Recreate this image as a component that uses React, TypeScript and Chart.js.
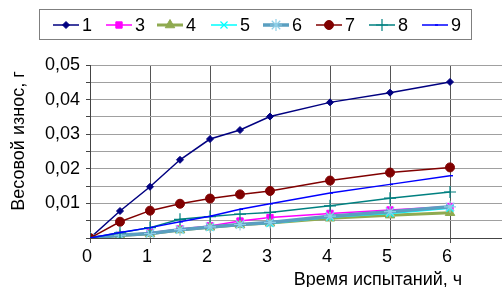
import React, { useEffect, useRef } from "react";
import { Chart, registerables } from "chart.js";
import { drawPoint } from "chart.js/helpers";

Chart.register(...registerables);

const timeHours = [0, 0.5, 1, 1.5, 2, 2.5, 3, 4, 5, 6];
const seriesLabels = ["1", "3", "4", "5", "6", "7", "8", "9"];
const s1 = [0, 0.0078, 0.0148, 0.0226, 0.0286, 0.0312, 0.0351, 0.0392, 0.042, 0.0451];
const s3 = [0, 0.0008, 0.0015, 0.0026, 0.0035, 0.0049, 0.0059, 0.0071, 0.0081, 0.0091];
const s4 = [0, 0.0007, 0.0012, 0.0023, 0.0031, 0.0038, 0.0043, 0.0057, 0.0066, 0.0073];
const s5 = [0, 0.0008, 0.0013, 0.0024, 0.0031, 0.0039, 0.0042, 0.006, 0.0071, 0.0086];
const s6 = [0, 0.0008, 0.0013, 0.0024, 0.0032, 0.0039, 0.0045, 0.0063, 0.0076, 0.009];
const s7 = [0, 0.0047, 0.0079, 0.0099, 0.0114, 0.0126, 0.0136, 0.0166, 0.0189, 0.0204];
const s8 = [0, 0.0015, 0.003, 0.0054, 0.0062, 0.0069, 0.0074, 0.0093, 0.0115, 0.0133];
const s9 = [0, 0.0016, 0.003, 0.0047, 0.0063, 0.0083, 0.0099, 0.013, 0.0155, 0.018];
const xTitle = "Время испытаний, ч";
const yTitle = "Весовой износ, г";

const FONT = 'Arial, "Liberation Sans", sans-serif';
const FS = 18;

type Style = {
  color: string;
  lineWidth: number;
  pointStyle: string;
  radius: number;
  pointColor: string;
  pointBorderWidth: number;
};

const styles: Style[] = [
  { color: "#000080", lineWidth: 1.5, pointStyle: "rectRot", radius: 3.5, pointColor: "#000080", pointBorderWidth: 1 },
  { color: "#FF00FF", lineWidth: 1.5, pointStyle: "rect", radius: 4.5, pointColor: "#FF00FF", pointBorderWidth: 1 },
  { color: "#8FAA50", lineWidth: 3, pointStyle: "triangle", radius: 5.5, pointColor: "#8FAA50", pointBorderWidth: 1 },
  { color: "#00FFFF", lineWidth: 1.5, pointStyle: "crossRot", radius: 5, pointColor: "#00FFFF", pointBorderWidth: 1.2 },
  { color: "#5A9FC0", lineWidth: 3.5, pointStyle: "star", radius: 6, pointColor: "#8FD0E8", pointBorderWidth: 1.2 },
  { color: "#800000", lineWidth: 1.5, pointStyle: "circle", radius: 4.5, pointColor: "#800000", pointBorderWidth: 1 },
  { color: "#008080", lineWidth: 1.5, pointStyle: "cross", radius: 6, pointColor: "#008080", pointBorderWidth: 1.2 },
  { color: "#0000FF", lineWidth: 1.5, pointStyle: "dash", radius: 3, pointColor: "#0000FF", pointBorderWidth: 1.5 },
];

const allSeries = [s1, s3, s4, s5, s6, s7, s8, s9];

const legendLineStarts = [53, 106, 157, 211, 263, 316, 369, 422];

const customText = {
  id: "customText",
  afterDraw(chart: any) {
    const ctx = chart.ctx as CanvasRenderingContext2D;
    ctx.save();
    ctx.strokeStyle = "#7f7f7f";
    ctx.lineWidth = 1;
    ctx.strokeRect(39.5, 9.5, 432, 30);
    const cy = 25;
    seriesLabels.forEach((lab, i) => {
      const st = styles[i];
      const x0 = legendLineStarts[i];
      ctx.beginPath();
      ctx.strokeStyle = st.color;
      ctx.lineWidth = st.lineWidth;
      ctx.moveTo(x0, cy);
      ctx.lineTo(x0 + 26, cy);
      ctx.stroke();
      ctx.fillStyle = st.pointColor;
      ctx.strokeStyle = st.pointColor;
      ctx.lineWidth = st.pointBorderWidth;
      drawPoint(ctx, { pointStyle: st.pointStyle as any, radius: st.radius, rotation: 0, borderWidth: st.pointBorderWidth }, x0 + 13, cy);
      ctx.fillStyle = "#000";
      ctx.font = `${FS}px ${FONT}`;
      ctx.textAlign = "left";
      ctx.textBaseline = "middle";
      ctx.fillText(lab, x0 + 29, cy + 1);
    });
    ctx.fillStyle = "#000";
    ctx.font = `${FS}px ${FONT}`;
    ctx.textAlign = "center";
    ctx.textBaseline = "middle";
    ctx.fillText(xTitle, 378, 280);
    ctx.translate(19, 141);
    ctx.rotate(-Math.PI / 2);
    ctx.fillText(yTitle, 0, 0);
    ctx.restore();
  },
};

export default function App() {
  const ref = useRef<HTMLCanvasElement | null>(null);
  useEffect(() => {
    if (!ref.current) return;
    const chart = new Chart(ref.current, {
      type: "line",
      data: {
        datasets: allSeries.map((vals, i) => {
          const st = styles[i];
          return {
            label: seriesLabels[i],
            data: vals.map((v, j) => ({ x: timeHours[j], y: v })),
            borderColor: st.color,
            borderWidth: st.lineWidth,
            pointStyle: st.pointStyle as any,
            pointRadius: st.radius,
            pointBackgroundColor: st.pointColor,
            pointBorderColor: st.pointColor,
            pointBorderWidth: st.pointBorderWidth,
            fill: false,
            tension: 0,
            order: 8 - i,
          };
        }),
      },
      options: {
        animation: false,
        responsive: false,
        events: [],
        layout: { padding: { left: 0, right: 20, top: 65, bottom: 0 } },
        plugins: { legend: { display: false }, tooltip: { enabled: false }, title: { display: false } },
        scales: {
          x: {
            type: "linear",
            min: 0,
            max: 7,
            ticks: { stepSize: 1, color: "#000", font: { size: FS, family: FONT }, padding: 3, labelOffset: -3 },
            grid: { color: "#555", lineWidth: 1, tickLength: 5, tickColor: "#555" },
            border: { color: "#444", width: 1 },
            afterFit: (s: any) => { s.height = 49; },
          },
          y: {
            min: 0,
            max: 0.05,
            ticks: {
              stepSize: 0.005,
              color: "#000",
              font: { size: FS, family: FONT },
              padding: 6,
              autoSkip: false,
              callback: (v: any) => {
                const n = Math.round(Number(v) * 1000);
                if (n === 0 || n % 10 !== 0) return "";
                return (n / 1000).toFixed(2).replace(".", ",");
              },
            },
            grid: { color: "#a0a0a0", lineWidth: 1, tickLength: 4, tickColor: "#444" },
            border: { color: "#444", width: 1 },
            afterFit: (s: any) => { s.width = 90; },
          },
        },
      },
      plugins: [customText],
    });
    return () => chart.destroy();
  }, []);
  return (
    <div style={{ position: "fixed", left: 0, top: 0, width: 530, height: 287, background: "#fff" }}>
      <canvas ref={ref} width={530} height={287} style={{ width: 530, height: 287, display: "block" }} />
    </div>
  );
}
